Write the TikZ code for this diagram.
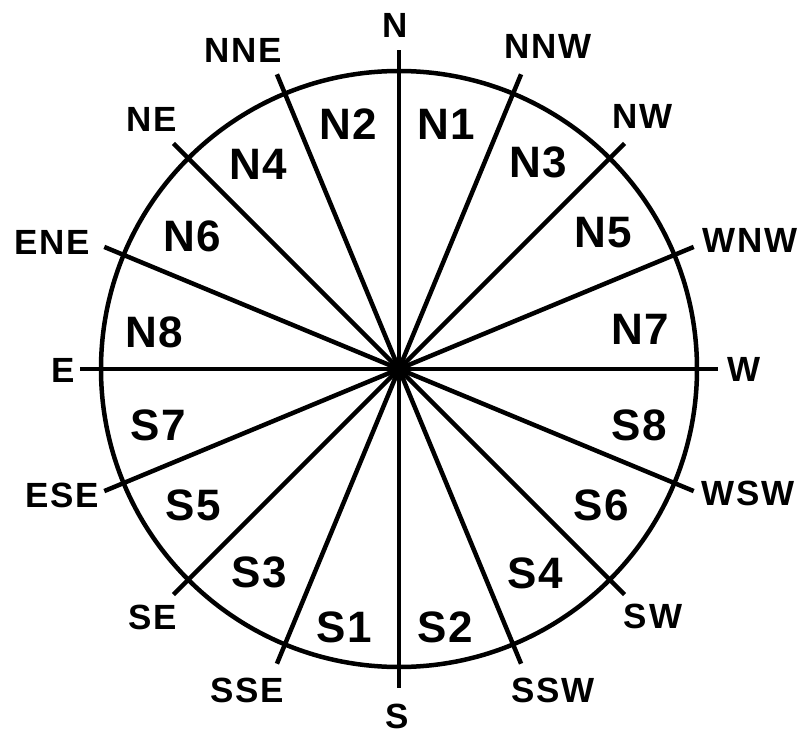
\documentclass[tikz,border=0pt]{standalone}
\usepackage{fontspec}
\setmainfont{Liberation Sans}
\begin{document}
\begin{tikzpicture}[x=1pt,y=1pt,line width=4.5pt,
  dirlbl/.style={inner sep=0pt,font=\fontsize{35}{35}\selectfont\bfseries\addfontfeatures{LetterSpace=5}},
  seclbl/.style={inner sep=0pt,font=\fontsize{44}{44}\selectfont\bfseries\addfontfeatures{LetterSpace=3}}]
\useasboundingbox (-399,-365) rectangle (399,369);
\coordinate (ctr) at (0,0);
\draw (ctr) circle (298);
% spokes, E on the left and W on the right
\foreach \a/\nm in {90/N,112.5/NNE,135/NE,157.5/ENE,180/E,202.5/ESE,225/SE,247.5/SSE,
  270/S,292.5/SSW,315/SW,337.5/WSW,0/W,22.5/WNW,45/NW,67.5/NNW}{
  \coordinate (e\nm) at (\a:319);
  \draw (ctr) -- (e\nm);
}
\fill (ctr) circle (8);
% direction labels
\foreach \nm/\x/\y in {N/-4/344,NNE/-156/319,NE/-247/250,ENE/-347/127,E/-336/-1,
  ESE/-337/-126,SE/-246/-248,SSE/-152/-321,S/-2/-347,SSW/154/-321,SW/254/-247,
  WSW/349/-124,W/345/0,WNW/351/129,NW/244/253,NNW/149/323}
  \node[dirlbl] (l\nm) at (\x,\y) {\nm};
% sector labels
\foreach \nm/\x/\y in {N1/47/245,N2/-51/245,N3/139/207,N4/-141/205,N5/204/136,
  N6/-207/133,N7/241/40,N8/-245/37,S1/-55/-258,S2/46/-258,S3/-140/-203,S4/136/-204,
  S5/-206/-136,S6/202/-136,S7/-241/-56,S8/240/-56}
  \node[seclbl] (\nm) at (\x,\y) {\nm};
\end{tikzpicture}
\end{document}
